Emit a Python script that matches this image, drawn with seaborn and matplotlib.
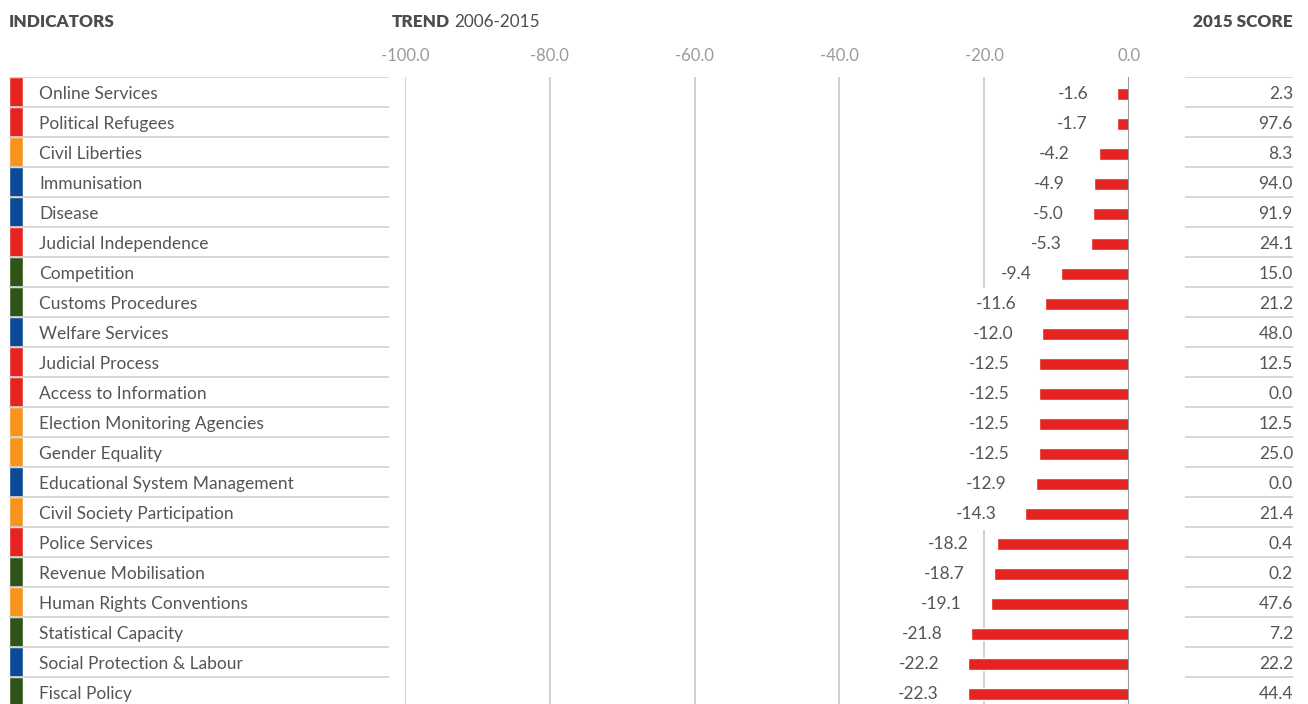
import numpy as np
import pandas as pd
import matplotlib
matplotlib.use("Agg")
import matplotlib.pyplot as plt
import seaborn as sns

# Indicator data
indicators = [
    "Online Services", "Political Refugees", "Civil Liberties", "Immunisation",
    "Disease", "Judicial Independence", "Competition", "Customs Procedures",
    "Welfare Services", "Judicial Process", "Access to Information",
    "Election Monitoring Agencies", "Gender Equality",
    "Educational System Management", "Civil Society Participation",
    "Police Services", "Revenue Mobilisation", "Human Rights Conventions",
    "Statistical Capacity", "Social Protection & Labour", "Fiscal Policy",
]
trend = [-1.6, -1.7, -4.2, -4.9, -5.0, -5.3, -9.4, -11.6, -12.0, -12.5, -12.5,
         -12.5, -12.5, -12.9, -14.3, -18.2, -18.7, -19.1, -21.8, -22.2, -22.3]
score_2015 = [2.3, 97.6, 8.3, 94.0, 91.9, 24.1, 15.0, 21.2, 48.0, 12.5, 0.0,
              12.5, 25.0, 0.0, 21.4, 0.4, 0.2, 47.6, 7.2, 22.2, 44.4]
groups = ["red", "red", "orange", "blue", "blue", "red", "green", "green",
          "blue", "red", "red", "orange", "orange", "blue", "orange", "red",
          "green", "orange", "green", "blue", "green"]
x_ticks = [-100, -80, -60, -40, -20, 0]

group_colors = {"red": "#e52421", "orange": "#f7941d",
                "blue": "#0b4a94", "green": "#2f5418"}
bar_color = "#e52421"
text_color = "#555555"
grid_color = "#c8c8c8"

df = pd.DataFrame({"indicator": indicators, "trend": trend,
                   "score": score_2015, "group": groups})
n = len(df)

sns.set_style("white")
plt.rcParams["font.family"] = ["Lato", "DejaVu Sans"]

W, H = 1308, 704
fig = plt.figure(figsize=(W / 100, H / 100), dpi=100)

# rows are 30px tall; separators sit at y=77, content is centred ~2px lower
row_top = 77
row_h = 30
bottom_px = row_top + n * row_h
off = 2 / row_h
ylims = (n - 0.5 - off, -0.5 - off)


def axes_rect(x0, x1):
    return [x0 / W, 1 - bottom_px / H, (x1 - x0) / W, (bottom_px - row_top) / H]


# --- middle: trend bars ---
ax = fig.add_axes(axes_rect(405, 1129))
for t in x_ticks[:-1]:
    ax.axvline(t, color=grid_color, lw=1.2, zorder=0)
ax.axvline(0, color="#9a9a9a", lw=1.5, zorder=3)
sns.barplot(data=df, x="trend", y="indicator", orient="h", color=bar_color,
            width=0.4, saturation=1, ax=ax, zorder=2)
ax.set_xlim(-100, 0)
ax.set_ylim(*ylims)
ax.set_xticks(x_ticks)
ax.set_xticklabels([f"{t:.1f}" for t in x_ticks], color="#9a9a9a", fontsize=12)
ax.xaxis.tick_top()
ax.tick_params(axis="x", length=0, pad=9)
ax.set_yticks([])
ax.set_xlabel("")
ax.set_ylabel("")
sns.despine(ax=ax, left=True, bottom=True, top=True, right=True)

px_per_unit = 724 / 100
for i, v in enumerate(df["trend"]):
    ax.text(v - 29 / px_per_unit, i, f"{v:.1f}", ha="right", va="center",
            fontsize=12.5, color=text_color, zorder=4,
            bbox=dict(facecolor="white", edgecolor="none", pad=6))

# --- left: indicator names with group strip ---
ax_l = fig.add_axes(axes_rect(9, 389))
ax_l.set_xlim(0, 380)
ax_l.set_ylim(*ylims)
ax_l.barh(np.arange(n) - off, 14, left=0, height=1.0,
          color=[group_colors[g] for g in df["group"]])
for i, name in enumerate(df["indicator"]):
    ax_l.text(30, i, name, ha="left", va="center", fontsize=12.5,
              color=text_color)
    ax_l.axhline(i - 0.5 - off, color="#cfcfcf", lw=1.2)
ax_l.axis("off")

# --- right: 2015 score ---
ax_r = fig.add_axes(axes_rect(1185, 1293))
ax_r.set_xlim(0, 108)
ax_r.set_ylim(*ylims)
for i, s in enumerate(df["score"]):
    ax_r.text(108, i, f"{s:.1f}", ha="right", va="center", fontsize=12.5,
              color=text_color)
    ax_r.axhline(i - 0.5 - off, color="#cfcfcf", lw=1.2)
ax_r.axis("off")

# --- headers ---
hy = 1 - 22 / H
fig.text(9 / W, hy, "INDICATORS", ha="left", va="center", fontsize=12.3,
         fontweight="heavy", color="#4d4d4d")
t1 = fig.text(392 / W, hy, "TREND", ha="left", va="center", fontsize=12.3,
              fontweight="heavy", color="#4d4d4d")
fig.canvas.draw()
bb = t1.get_window_extent()
fig.text(bb.x1 / W + 4 / W, hy, "2006-2015", ha="left", va="center",
         fontsize=12.3, color="#4d4d4d")
fig.text(1293 / W, hy, "2015 SCORE", ha="right", va="center", fontsize=12.3,
         fontweight="heavy", color="#4d4d4d")

fig.savefig("out.png", dpi=100)
